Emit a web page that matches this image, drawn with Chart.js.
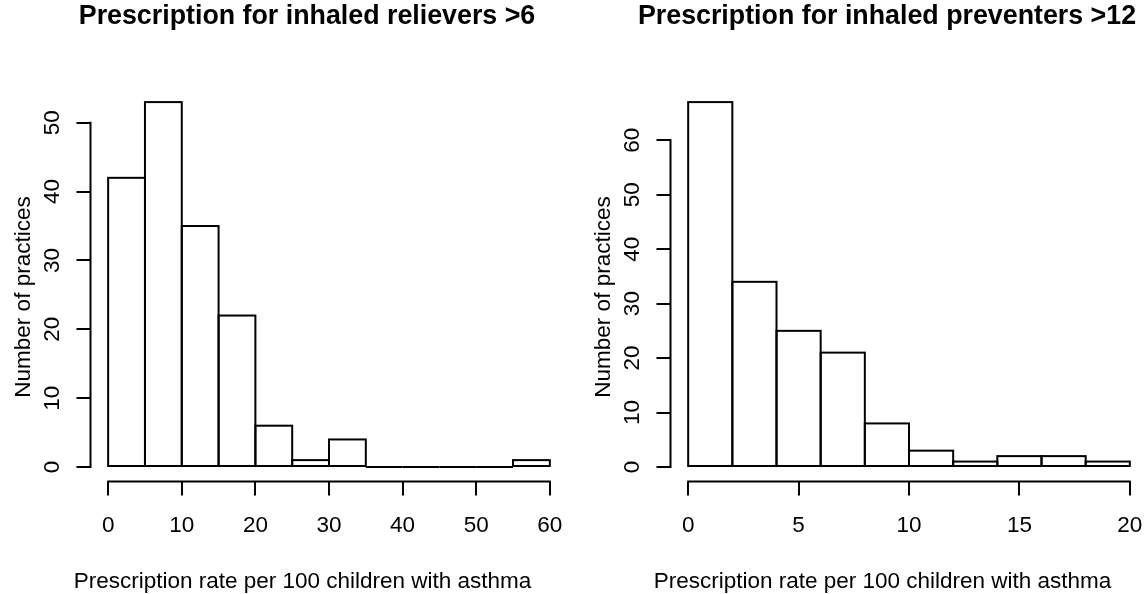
<!DOCTYPE html>
<html><head><meta charset="utf-8">
<script src="https://cdn.jsdelivr.net/npm/chart.js@4/dist/chart.umd.min.js"></script>
<style>
html,body{margin:0;padding:0;background:#fff;overflow:hidden;width:1146px;height:594px;position:relative;}
.panel{position:absolute;top:0;width:580px;height:594px;}
</style></head><body>
<div class="panel" style="left:0"><canvas id="c1" width="580" height="594"></canvas></div>
<div class="panel" style="left:580px"><canvas id="c2" width="580" height="594"></canvas></div>
<script>
// ---- data ----
const relieverBinEdges = [0, 5, 10, 15, 20, 25, 30, 35, 40, 45, 50, 55, 60];
const relieverCounts   = [42, 53, 35, 22, 6, 1, 4, 0, 0, 0, 0, 1];
const relieverXTicks   = [0, 10, 20, 30, 40, 50, 60];
const relieverYTicks   = [0, 10, 20, 30, 40, 50];

const preventerBinEdges = [0, 2, 4, 6, 8, 10, 12, 14, 16, 18, 20];
const preventerCounts   = [67, 34, 25, 21, 8, 3, 1, 2, 2, 1];
const preventerXTicks   = [0, 5, 10, 15, 20];
const preventerYTicks   = [0, 10, 20, 30, 40, 50, 60];

const mainTitles = ['Prescription for inhaled relievers >6', 'Prescription for inhaled preventers >12'];
const xAxisTitle = 'Prescription rate per 100 children with asthma';
const yAxisTitle = 'Number of practices';

// ---- drawing ----
const FONT = "'Liberation Sans', Arial, Helvetica, sans-serif";
const BASE = 22.5;

const rStyle = {
  id: 'rStyle',
  afterDatasetsDraw(chart) {
    const ctx = chart.ctx;
    ctx.save();
    ctx.strokeStyle = '#000';
    ctx.lineWidth = 2;
    ctx.lineJoin = 'miter';
    chart.getDatasetMeta(0).data.forEach(el => {
      const p = el.getProps(['x', 'y', 'base', 'width'], true);
      ctx.strokeRect(p.x - p.width / 2, p.y, p.width, p.base - p.y);
    });
    ctx.restore();
  },
  afterDraw(chart) {
    const ctx = chart.ctx;
    const o = chart.options.plugins.rStyle;
    const xs = chart.scales.x, ys = chart.scales.y, ca = chart.chartArea;
    ctx.save();
    ctx.strokeStyle = '#000';
    ctx.lineWidth = 2;
    ctx.lineCap = 'square';
    ctx.beginPath();
    ctx.moveTo(xs.getPixelForValue(o.xTicks[0]), ca.bottom);
    ctx.lineTo(xs.getPixelForValue(o.xTicks[o.xTicks.length - 1]), ca.bottom);
    ctx.moveTo(ca.left, ys.getPixelForValue(o.yTicks[0]));
    ctx.lineTo(ca.left, ys.getPixelForValue(o.yTicks[o.yTicks.length - 1]));
    ctx.stroke();

    ctx.fillStyle = '#000';
    ctx.textAlign = 'center';
    ctx.textBaseline = 'alphabetic';
    ctx.font = 'bold 26.8px ' + FONT;
    ctx.fillText(o.title, ca.left + 216.5, 24);
    ctx.font = BASE + 'px ' + FONT;
    ctx.fillText(xAxisTitle, ca.left + 212, 588);
    ctx.translate(30, 297);
    ctx.rotate(-Math.PI / 2);
    ctx.fillText(yAxisTitle, 0, 0);
    ctx.restore();
  }
};

function makeChart(id, edges, counts, xTicks, yTicks, title) {
  const data = counts.map((c, i) => ({ x: (edges[i] + edges[i + 1]) / 2, y: c }));
  const xr = edges[edges.length - 1] - edges[0];
  const ymax = Math.max(...counts);
  const grid = { drawOnChartArea: false, drawTicks: true, tickLength: 14, color: '#000', lineWidth: 2, offset: false };
  return new Chart(document.getElementById(id), {
    type: 'bar',
    data: { datasets: [{ data, backgroundColor: '#fff', borderWidth: 0, barPercentage: 1, categoryPercentage: 1 }] },
    options: {
      responsive: false, animation: false, devicePixelRatio: 1,
      layout: { padding: { top: 87.5, right: 12.5, bottom: 0, left: 0 } },
      plugins: { legend: { display: false }, tooltip: { enabled: false }, title: { display: false },
                 rStyle: { xTicks, yTicks, title } },
      scales: {
        x: {
          type: 'linear', offset: false,
          min: edges[0] - 0.04 * xr, max: edges[edges.length - 1] + 0.04 * xr,
          afterBuildTicks: s => { s.ticks = xTicks.map(v => ({ value: v })); },
          afterFit: s => { s.height = 594 - 481.6; },
          grid, border: { display: false },
          ticks: { color: '#000', font: { family: FONT, size: BASE }, padding: 17, maxRotation: 0, minRotation: 0, autoSkip: false }
        },
        y: {
          type: 'linear', offset: false,
          min: -0.04 * ymax, max: ymax * 1.04,
          afterBuildTicks: s => { s.ticks = yTicks.map(v => ({ value: v })); },
          afterFit: s => { s.width = 90.5; },
          grid, border: { display: false },
          ticks: { color: '#000', font: { family: FONT, size: BASE }, padding: 11, minRotation: 90, maxRotation: 90, crossAlign: 'center', autoSkip: false }
        }
      }
    },
    plugins: [rStyle]
  });
}

makeChart('c1', relieverBinEdges, relieverCounts, relieverXTicks, relieverYTicks, mainTitles[0]);
makeChart('c2', preventerBinEdges, preventerCounts, preventerXTicks, preventerYTicks, mainTitles[1]);
</script>
</body></html>
